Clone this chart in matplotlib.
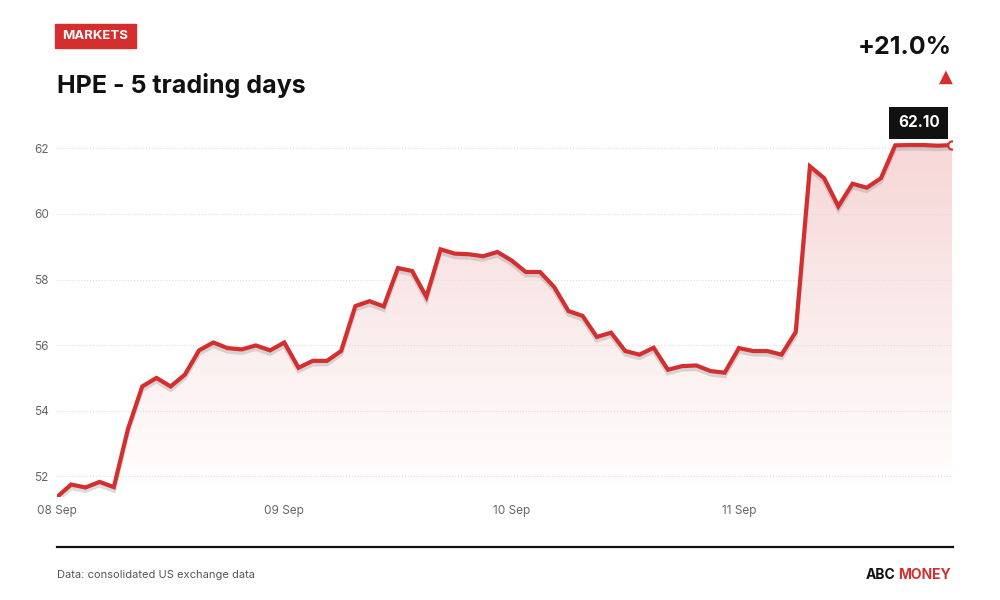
import numpy as np
from matplotlib import pyplot as plt
from matplotlib import patheffects as pe
from matplotlib.patches import Rectangle

plt.rcParams['font.family'] = ['Inter', 'DejaVu Sans']

# data
price = [51.37, 51.75, 51.66, 51.83, 51.67, 53.45, 54.74, 55.00, 54.74, 55.10,
         55.84, 56.08, 55.91, 55.87, 55.99, 55.84, 56.08, 55.31, 55.52, 55.52,
         55.82, 57.19, 57.34, 57.18, 58.35, 58.26, 57.47, 58.92, 58.79, 58.77,
         58.71, 58.84, 58.58, 58.23, 58.23, 57.77, 57.04, 56.89, 56.25, 56.38,
         55.82, 55.71, 55.92, 55.25, 55.36, 55.38, 55.21, 55.16, 55.91, 55.82,
         55.82, 55.71, 56.40, 61.45, 61.09, 60.23, 60.92, 60.80, 61.09, 62.09,
         62.10, 62.10, 62.08, 62.10]
day_labels = ['08 Sep', '09 Sep', '10 Sep', '11 Sep']
day_index = [0, 16, 32, 48]
y_ticks = [52, 54, 56, 58, 60, 62]
title = 'HPE - 5 trading days'
change = '+21.0%'

RED = '#d32f2f'
x = np.arange(len(price))
ymin, ymax = 51.37, 62.3

fig = plt.figure(figsize=(10, 6), dpi=100)
ax = fig.add_axes([0.057, 0.1717, 0.895, 0.5975])

# gradient fill under the line
grad = np.linspace(0.0, 0.2, 256).reshape(-1, 1)
rgba = np.zeros((256, 1, 4))
rgba[:, :, 0] = 0.83
rgba[:, :, 1] = 0.19
rgba[:, :, 2] = 0.19
rgba[:, :, 3] = grad
img = ax.imshow(rgba, extent=[0, x[-1], ymin, ymax], origin='lower',
                aspect='auto', zorder=1)
poly = ax.fill_between(x, price, ymin, color='none', lw=0)
img.set_clip_path(poly.get_paths()[0], transform=ax.transData)

ax.plot(x, price, color=RED, lw=3, zorder=3, solid_joinstyle='miter',
        path_effects=[pe.SimpleLineShadow(offset=(0, -2.5), shadow_color='#999999', alpha=0.35),
                      pe.Normal()])
ax.plot(x[-1], price[-1], 'o', ms=6, mfc='white', mec=RED, mew=1.5, zorder=4, clip_on=True)

ax.set_xlim(0, x[-1])
ax.set_ylim(ymin, ymax)
ax.set_yticks(y_ticks)
ax.set_xticks(day_index)
ax.set_xticklabels(day_labels)
ax.tick_params(length=0, labelsize=8.5, labelcolor='#666666', pad=5.5)
ax.tick_params(axis='y', pad=6)
ax.grid(axis='y', linestyle=':', color='#dddddd', lw=0.8)
for s in ax.spines.values():
    s.set_visible(False)

# last value label
ax.annotate('%.2f' % price[-1], xy=(x[-1], price[-1]), xytext=(-9, 16),
            textcoords='offset points', ha='right', va='center',
            color='white', fontsize=11, fontweight='bold', zorder=5,
            bbox=dict(boxstyle='square,pad=0.55', fc='#111111', ec='none'))

# header
fig.patches.append(Rectangle((0.055, 1 - 48 / 600), 0.081, 24 / 600,
                             transform=fig.transFigure, color=RED))
fig.text(0.0955, 1 - 36 / 600, 'MARKETS', color='white', fontsize=9.5,
         fontweight='bold', ha='center', va='center')
fig.text(0.057, 1 - 85 / 600, title, fontsize=18, fontweight='bold',
         color='#111111', ha='left', va='center')
fig.text(0.952, 1 - 48 / 600, change, fontsize=18, fontweight='bold',
         color='#111111', ha='right', va='center')
fig.text(0.953, 1 - 77 / 600, '\u25b2', fontsize=13, color=RED,
         ha='right', va='center', family=['DejaVu Sans'])

# footer
fig.add_artist(plt.Line2D([0.057, 0.953], [1 - 547 / 600] * 2, color='#111111',
                          lw=1.6, transform=fig.transFigure))
fig.text(0.057, 1 - 575 / 600, 'Data: consolidated US exchange data',
         fontsize=8, color='#555555', ha='left', va='center')
fig.text(0.951, 1 - 575 / 600, 'MONEY', fontsize=10, fontweight='bold',
         color=RED, ha='right', va='center')
fig.text(0.8955, 1 - 575 / 600, 'ABC', fontsize=10, fontweight='bold',
         color='#111111', ha='right', va='center')

plt.savefig('out.png')
